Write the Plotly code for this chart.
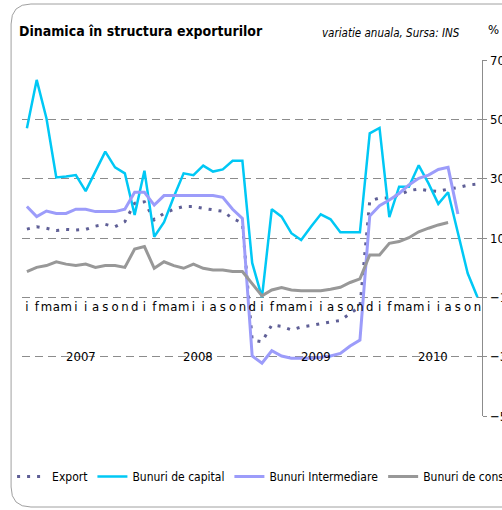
import plotly.graph_objects as go

months = ["i", "f", "m", "a", "m", "i", "i", "a", "s", "o", "n", "d"]
years = ["2007", "2008", "2009", "2010"]
month_labels = (months * 4)[:47]

export = [13.0, 13.8, 13.3, 12.5, 12.9, 12.7, 12.9, 14.0, 14.6, 13.8, 15.5, 21.7,
          22.2, 16.1, 18.3, 19.7, 20.6, 20.6, 20.0, 19.5, 19.0, 16.6, 15.0, -24.4,
          -25.0, -19.3, -19.8, -21.0, -20.0, -19.5, -18.8, -18.3, -17.8, -15.4, -13.1, 22.5,
          23.5, 23.5, 24.5, 26.0, 26.5, 26.0, 25.7, 26.5, 27.0, 27.8, 28.2]
capital = [47.0, 63.3, 50.3, 30.4, 30.7, 31.2, 25.8, 32.4, 39.1, 33.8, 31.8, 17.8,
           32.7, 10.4, 15.3, 23.9, 31.8, 31.2, 34.4, 32.4, 33.1, 36.0, 36.0, 1.6,
           -10.0, 19.7, 17.2, 11.6, 9.3, 13.8, 18.0, 16.3, 11.9, 11.9, 11.9, 45.3,
           47.1, 17.0, 27.3, 27.3, 34.5, 28.4, 21.5, 25.4, 11.6, -1.9, -10.0]
intermediare = [20.6, 17.2, 19.1, 18.3, 18.3, 19.7, 19.7, 18.9, 18.9, 18.9, 19.7, 25.4,
                25.4, 21.1, 24.3, 24.3, 24.3, 24.3, 24.3, 24.3, 23.7, 19.7, 16.6, -29.8,
                -32.2, -28.0, -29.8, -30.5, -30.5, -30.5, -30.2, -29.8, -28.9, -26.4, -24.4, 17.4,
                20.9, 22.8, 25.0, 27.9, 30.1, 31.2, 33.1, 33.8, 18.1]
consum = [-1.3, 0.1, 0.7, 2.0, 1.2, 0.7, 1.2, 0.1, 0.7, 0.7, 0.1, 6.3,
          7.1, -0.2, 2.0, 0.7, -0.2, 1.2, -0.2, -0.8, -0.8, -1.3, -1.3, -5.5,
          -9.5, -7.5, -6.7, -7.5, -7.8, -7.8, -7.8, -7.3, -6.6, -5.0, -3.8, 4.3,
          4.3, 8.2, 8.8, 10.1, 12.1, 13.3, 14.4, 15.2]

FONT = "Liberation Sans Narrow, DejaVu Sans Condensed, Arial Narrow, sans-serif"
# The original chart is wider than the visible window and gets cropped on the right.
W, H = 550, 510
ML, MR, MT, MB = 18, 20, 60, 94
PW, PH = W - ML - MR, H - MT - MB
AXIS_RIGHT = 482  # pixel position of the value axis line


def px(x):
    return (x - ML) / PW


def py(y):
    return (H - MB - y) / PH


fig = go.Figure()
fig.add_trace(go.Scatter(x=list(range(len(export))), y=export, name="Export", mode="lines",
                         line=dict(color="#5F5F96", width=3, dash="3px,7px")))
fig.add_trace(go.Scatter(x=list(range(len(capital))), y=capital, name="Bunuri de capital", mode="lines",
                         line=dict(color="#00C8F5", width=2.5)))
fig.add_trace(go.Scatter(x=list(range(len(intermediare))), y=intermediare, name="Bunuri Intermediare",
                         mode="lines", line=dict(color="#9C9CFA", width=3)))
fig.add_trace(go.Scatter(x=list(range(len(consum))), y=consum, name="Bunuri de consum", mode="lines",
                         line=dict(color="#989898", width=3)))

annotations = [
    dict(text="<b>Dinamica în structura exporturilor</b>", x=px(13), y=py(31), xref="paper", yref="paper",
         xanchor="left", yanchor="middle", showarrow=False, font=dict(family=FONT, size=14, color="black")),
    dict(text="<i>variatie anuala, Sursa: INS</i>", x=px(461), y=py(33), xref="paper", yref="paper",
         xanchor="right", yanchor="middle", showarrow=False, font=dict(family=FONT, size=11.5, color="black")),
    dict(text="%", x=px(486), y=py(29), xref="paper", yref="paper",
         xanchor="left", yanchor="middle", showarrow=False, font=dict(family=FONT, size=13, color="black")),
]
for k, yr in enumerate(years):
    annotations.append(dict(text=yr, x=12 * k + 5.5, y=-30, xref="x", yref="y", xanchor="center",
                            yanchor="middle", showarrow=False,
                            font=dict(family=FONT, size=13, color="black")))

frame = "M {a},{b} L {c},{b} Q {d},{b} {d},{e} L {d},{f} Q {d},{g} {c},{g} L {a},{g}".format(
    a=px(560), b=py(4), c=px(27), d=px(7), e=py(24), f=py(487), g=py(507))

fig.update_layout(
    width=W, height=H,
    margin=dict(l=ML, r=MR, t=MT, b=MB),
    paper_bgcolor="white", plot_bgcolor="white",
    font=dict(family=FONT, size=12, color="black"),
    showlegend=True,
    legend=dict(orientation="h", x=px(8), y=py(462), xanchor="left", yanchor="top",
                font=dict(family=FONT, size=12, color="black"), itemwidth=30,
                tracegroupgap=0, bgcolor="rgba(0,0,0,0)"),
    xaxis=dict(domain=[0, (AXIS_RIGHT - ML) / PW], range=[-0.5, 46.5], anchor="free", position=1 / 3,
               tickmode="array", tickvals=list(range(len(month_labels))), ticktext=month_labels, tickangle=0,
               showgrid=False, zeroline=False, showline=False, ticks="",
               tickfont=dict(family=FONT, size=13, color="black")),
    yaxis=dict(range=[-50, 70], side="right", tickmode="linear", tick0=-50, dtick=20,
               showgrid=True, gridcolor="#8C8C8C", gridwidth=1, griddash="8px,5px",
               zeroline=False, showline=True, linecolor="#8C8C8C", linewidth=1,
               ticks="outside", ticklen=4, tickcolor="#8C8C8C",
               tickfont=dict(family=FONT, size=13, color="black")),
    annotations=annotations,
    shapes=[dict(type="path", path=frame, xref="paper", yref="paper",
                 line=dict(color="#A0A0A0", width=1), layer="below")],
)

fig.write_html("out.html", config={"displayModeBar": False},
               post_script="document.body.style.margin='0';document.body.style.overflow='hidden';"
                           "document.documentElement.style.overflow='hidden';")
